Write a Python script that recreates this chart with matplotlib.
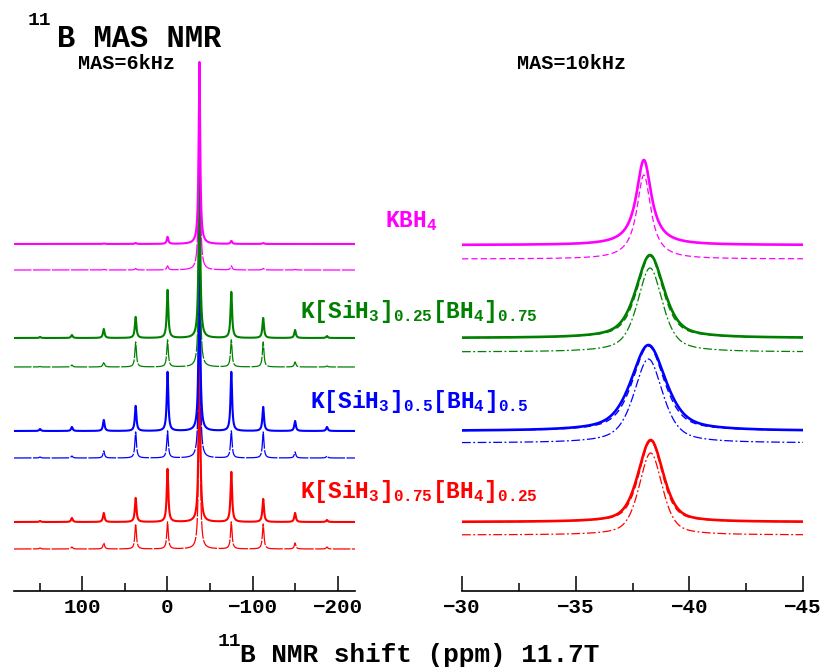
import numpy as np
import matplotlib
matplotlib.use("Agg")
import matplotlib.pyplot as plt
from matplotlib.ticker import FixedLocator

plt.rcParams['font.family'] = ['Liberation Mono', 'DejaVu Sans Mono']
plt.rcParams['font.weight'] = 'bold'
plt.rcParams['mathtext.fontset'] = 'custom'
plt.rcParams['mathtext.rm'] = 'Liberation Mono:bold'
plt.rcParams['mathtext.it'] = 'Liberation Mono:bold'
plt.rcParams['mathtext.bf'] = 'Liberation Mono:bold'

# --- data ---------------------------------------------------------------
sample_labels = [r'KBH$_4$',
                 r'K[SiH$_3$]$_{0.25}$[BH$_4$]$_{0.75}$',
                 r'K[SiH$_3$]$_{0.5}$[BH$_4$]$_{0.5}$',
                 r'K[SiH$_3$]$_{0.75}$[BH$_4$]$_{0.25}$']
sample_colors = ['#ff00ff', '#008000', '#0000ff', '#ff0000']

# MAS = 6 kHz: centre band + spinning sidebands (ppm) and peak heights
sideband_ppm = [149.5, 112.1, 74.7, 37.3, -0.1, -37.5, -74.9, -112.3, -149.7, -187.1]
kbh4_6k_exp = [0, 0, 0.5, 1, 7, 182, 3, 1, 0, 0]
kbh4_6k_sim = [0, 0, 0.5, 1.5, 4, 182, 4, 1.5, 0.5, 0]
k25_6k_exp = [1, 3, 9, 21, 48, 182, 46, 20, 8, 2]
k25_6k_sim = [0.5, 2, 5, 25, 27, 182, 27, 25, 5, 1]
k50_6k_exp = [2, 4, 11, 25, 59, 182, 59, 24, 10, 4]
k50_6k_sim = [1, 2, 7, 26, 27, 182, 27, 26, 6, 2]
k75_6k_exp = [1, 4, 9, 24, 53, 182, 50, 23, 9, 2]
k75_6k_sim = [1, 2, 6, 25, 27, 182, 27, 25, 6, 2]
sb_hwhm = 1.1

# MAS = 10 kHz: centre band line shapes
center_10k = [-38.0, -38.27, -38.2, -38.3]
height_10k_exp = [85, 83, 86, 82]
fwhm_10k_exp = [0.8, 1.45, 1.8, 1.3]
eta_10k_exp = [1.0, 0.6, 0.6, 0.5]
height_10k_fit = [85, 82, 85, 81]
fwhm_10k_fit = [0.8, 1.35, 1.65, 1.22]
height_10k_sim = [84, 84, 84, 82]
fwhm_10k_sim = [0.75, 1.3, 1.5, 1.2]

# stacking offsets
offset_6k_exp = [347, 253, 160, 69]
offset_6k_sim = [321, 224, 133, 42]
offset_10k_exp = [346, 253, 160, 69]
offset_10k_sim = [332, 239, 148, 56]


def lorentz(x, x0, hwhm):
    return hwhm ** 2 / ((x - x0) ** 2 + hwhm ** 2)


def pvoigt(x, x0, fwhm, eta):
    s = fwhm / 2.3548
    g = np.exp(-(x - x0) ** 2 / (2 * s ** 2))
    return eta * lorentz(x, x0, fwhm / 2) + (1 - eta) * g


def sideband_spectrum(x, heights):
    y = np.zeros_like(x)
    for p, h in zip(sideband_ppm, heights):
        y += h * lorentz(x, p, sb_hwhm)
    return y


W, H = 825, 668
fig = plt.figure(figsize=(W / 100, H / 100), dpi=100)
ax1 = fig.add_axes([14 / W, 77 / H, 341 / W, 551 / H])
ax2 = fig.add_axes([462 / W, 77 / H, 341 / W, 551 / H])

x6 = np.linspace(180, -220, 8001)
exp6 = [kbh4_6k_exp, k25_6k_exp, k50_6k_exp, k75_6k_exp]
sim6 = [kbh4_6k_sim, k25_6k_sim, k50_6k_sim, k75_6k_sim]

x10 = np.linspace(-30, -45, 3001)

# draw from bottom (red) to top (magenta) so the upper traces sit on top
for i in [3, 2, 1, 0]:
    c = sample_colors[i]
    ax1.plot(x6, offset_6k_sim[i] + sideband_spectrum(x6, sim6[i]),
             color=c, lw=0.9, ls=(0, (14, 1.2)))
    ax1.plot(x6, offset_6k_exp[i] + sideband_spectrum(x6, exp6[i]),
             color=c, lw=1.5)

    ysim = height_10k_sim[i] * pvoigt(x10, center_10k[i], fwhm_10k_sim[i], eta_10k_exp[i])
    ls_sim = (0, (5, 2.5)) if i == 0 else (0, (7, 2, 1.5, 2))
    ax2.plot(x10, offset_10k_sim[i] + ysim, color=c, lw=0.9, ls=ls_sim)
    yexp = height_10k_exp[i] * pvoigt(x10, center_10k[i], fwhm_10k_exp[i], eta_10k_exp[i])
    ax2.plot(x10, offset_10k_exp[i] + yexp, color=c, lw=1.9)
    if i > 0:
        yfit = height_10k_fit[i] * pvoigt(x10, center_10k[i], fwhm_10k_fit[i], eta_10k_exp[i])
        ax2.plot(x10, offset_10k_exp[i] + yfit, color=c, lw=1.0, ls=(0, (5, 3)))

ax1.set_xlim(180, -220)
ax2.set_xlim(-30, -45)
for ax in (ax1, ax2):
    ax.set_ylim(0, 551)
    for s in ('top', 'left', 'right'):
        ax.spines[s].set_visible(False)
    ax.spines['bottom'].set_linewidth(1.2)
    ax.set_yticks([])
    ax.tick_params(axis='x', which='major', direction='in', length=11, width=1.1,
                   labelsize=15, pad=5)
    ax.tick_params(axis='x', which='minor', direction='in', length=6, width=1.1)
    ax.patch.set_alpha(0)

ax1.xaxis.set_major_locator(FixedLocator([100, 0, -100, -200]))
ax1.xaxis.set_minor_locator(FixedLocator([150, 50, -50, -150]))
ax2.xaxis.set_major_locator(FixedLocator([-30, -35, -40, -45]))
ax2.xaxis.set_minor_locator(FixedLocator([-32.5, -37.5, -42.5]))

# texts
def ftext(px, py, s, **kw):
    fig.text(px / W, 1 - py / H, s, va='baseline', ha='left', **kw)

ftext(28, 25, '11', fontsize=14)
ftext(57, 47, 'B MAS NMR', fontsize=22)
ftext(78, 69, 'MAS=6kHz', fontsize=14.5)
ftext(517, 69, 'MAS=10kHz', fontsize=14.5)

label_pos = [(385, 227), (300, 318), (310, 408), (300, 498)]
for (px, py), lab, c in zip(label_pos, sample_labels, sample_colors):
    ftext(px, py, lab, fontsize=16.5, color=c)

ftext(218, 646, '11', fontsize=14)
ftext(240, 662, 'B NMR shift (ppm) 11.7T', fontsize=18.8)

fig.savefig('out.png', dpi=100)
